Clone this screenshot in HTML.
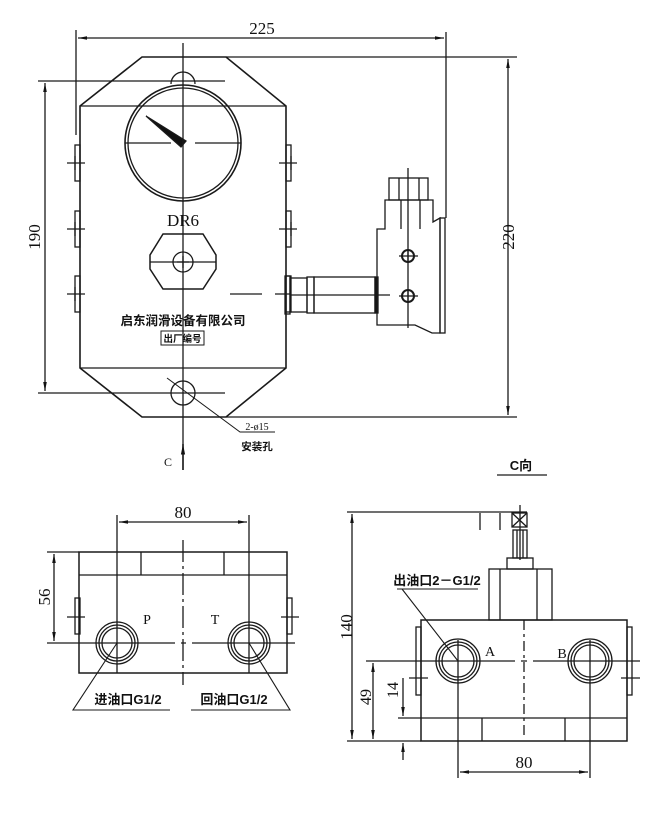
<!DOCTYPE html>
<html><head><meta charset="utf-8"><style>
html,body{margin:0;padding:0;background:#fff;}
svg{display:block;}
text{font-family:"Liberation Serif","Noto Serif CJK SC","Noto Sans CJK SC",serif;fill:#111;}
.c{font-family:"Liberation Sans","Noto Sans CJK SC",sans-serif;font-weight:bold;}
</style></head><body>
<svg width="648" height="813" viewBox="0 0 648 813" xmlns="http://www.w3.org/2000/svg" fill="none" stroke="#1a1a1a" stroke-width="1.3">
<defs><marker id="a" viewBox="0 0 10 10" refX="10" refY="5" markerWidth="7" markerHeight="7" orient="auto-start-reverse"><path d="M0,3L10,5L0,7z" fill="#111" stroke="none"/></marker></defs>
<!-- TOP VIEW -->
<path d="M142,57 L226,57 L286,106 L286,368 L226,417 L142,417 L80,368 L80,106 Z" stroke-width="1.6"/>
<line x1="80" y1="106" x2="286" y2="106"/><line x1="80" y1="368" x2="286" y2="368"/>
<circle cx="183" cy="143" r="58" stroke-width="1.6"/><circle cx="183" cy="143" r="55"/>
<path d="M146,116 L186,141 L181,147 Z" fill="#111"/>
<line x1="125" y1="143" x2="171" y2="143"/><line x1="195" y1="143" x2="241" y2="143"/>
<path d="M171,84 A12,12 0 1 1 195,84"/>
<line x1="38" y1="81" x2="225" y2="81"/><line x1="38" y1="393" x2="225" y2="393"/>
<circle cx="183" cy="393" r="12"/>
<line x1="183" y1="43" x2="183" y2="470"/>
<!-- side tabs -->
<g>
<rect x="75" y="145" width="5" height="36"/><rect x="75" y="211" width="5" height="36"/><rect x="75" y="276" width="5" height="36"/>
<rect x="286" y="145" width="5" height="36"/><rect x="286" y="211" width="5" height="36"/><rect x="286" y="276" width="5" height="36"/>
<path d="M67,163H85M67,229H85M67,294H85M279,163H297M279,229H297M75,156V170M75,222V236M75,287V301M291,156V170M291,222V236"/>
</g>
<text x="183" y="226" font-size="17" text-anchor="middle" stroke="none">DR6</text>
<path d="M163,234 L203,234 L216,255 L216,269 L203,289 L163,289 L150,269 L150,255 Z" stroke-width="1.5"/>
<path d="M150,262H216"/><circle cx="183" cy="262" r="10"/>
<path d="M177,262H189M183,256V268"/>
<path d="M230,294H262M275,294H290" />
<!-- connector -->
<rect x="285" y="276" width="5" height="38"/>
<rect x="290" y="278" width="17" height="34"/>
<rect x="307" y="277" width="7" height="36"/>
<rect x="314" y="277" width="61" height="36"/>
<rect x="375" y="277" width="3" height="36" fill="#111"/>
<path d="M290,295H390"/>
<!-- bracket -->
<path d="M377,229 L377,325 L415,325 L432,333 L440,333 L440,218 L433,222 L433,200 L385,200 L385,229 Z"/>
<rect x="389" y="178" width="39" height="22"/>
<path d="M399,178V200M419,178V200M401,200V229M420,200V229"/>
<rect x="440" y="218" width="5" height="115"/>
<line x1="408" y1="168" x2="408" y2="328"/>
<circle cx="408" cy="256" r="6" stroke-width="2"/><circle cx="408" cy="296" r="6" stroke-width="2"/>
<path d="M399,256H418M399,296H418M408,250V262M408,290V302"/>
<!-- dims top -->
<path d="M76,30V135M446,32V218M226,57H517M226,417H517"/>
<line x1="78" y1="38" x2="444" y2="38" marker-start="url(#a)" marker-end="url(#a)"/>
<text x="262" y="34" font-size="17" text-anchor="middle" stroke="none">225</text>
<line x1="508" y1="59" x2="508" y2="415" marker-start="url(#a)" marker-end="url(#a)"/>
<text transform="translate(514,237) rotate(-90)" font-size="17" text-anchor="middle" stroke="none">220</text>
<line x1="45" y1="83" x2="45" y2="391" marker-start="url(#a)" marker-end="url(#a)"/>
<text transform="translate(40,237) rotate(-90)" font-size="17" text-anchor="middle" stroke="none">190</text>
<text class="c" x="183" y="325" font-size="12.5" text-anchor="middle" stroke="none">启东润滑设备有限公司</text>
<rect x="161" y="331" width="43" height="14" stroke-width="1"/>
<text class="c" x="182.5" y="342" font-size="9.5" text-anchor="middle" stroke="none">出厂编号</text>
<path d="M167,378 L240,432 H275" stroke-width="1"/>
<text x="257" y="430" font-size="10" text-anchor="middle" stroke="none">2-ø15</text>
<text class="c" x="257" y="450" font-size="10.5" text-anchor="middle" stroke="none">安装孔</text>
<line x1="183" y1="470" x2="183" y2="444" marker-end="url(#a)" stroke-width="1.5"/>
<text x="168" y="466" font-size="12" text-anchor="middle" stroke="none">C</text>
<!-- LOWER LEFT -->
<rect x="79" y="552" width="208" height="121" stroke-width="1.5"/>
<path d="M79,575H287M141,552V575M224,552V575"/>
<rect x="75" y="598" width="5" height="36"/><rect x="287" y="598" width="5" height="36"/>
<path d="M67,617H85M281,617H299"/>
<g><circle cx="117" cy="643" r="21"/><circle cx="117" cy="643" r="18"/><circle cx="117" cy="643" r="15"/>
<circle cx="249" cy="643" r="21"/><circle cx="249" cy="643" r="18"/><circle cx="249" cy="643" r="15"/></g>
<path d="M117,515V673M249,515V673"/>
<path d="M47,643H175M181,643H186M192,643H295" stroke-dasharray="none"/>
<path d="M183,540V685" stroke-dasharray="22,4,3,4"/>
<line x1="119" y1="522" x2="247" y2="522" marker-start="url(#a)" marker-end="url(#a)"/>
<text x="183" y="518" font-size="17" text-anchor="middle" stroke="none">80</text>
<path d="M47,552H79"/>
<line x1="54" y1="554" x2="54" y2="641" marker-start="url(#a)" marker-end="url(#a)"/>
<text transform="translate(50,597) rotate(-90)" font-size="17" text-anchor="middle" stroke="none">56</text>
<text x="147" y="624" font-size="14" text-anchor="middle" stroke="none">P</text>
<text x="215" y="624" font-size="14" text-anchor="middle" stroke="none">T</text>
<path d="M117,643 L73,710 H170M249,643 L290,710 H191" stroke-width="1.1"/>
<text class="c" x="128" y="704" font-size="13" text-anchor="middle" stroke="none">进油口G1/2</text>
<text class="c" x="234" y="704" font-size="13" text-anchor="middle" stroke="none">回油口G1/2</text>
<!-- LOWER RIGHT -->
<text class="c" x="521" y="470" font-size="13" text-anchor="middle" stroke="none">C向</text>
<path d="M497,475H547"/>
<rect x="421" y="620" width="206" height="121" stroke-width="1.5"/>
<path d="M398,718H627M482,718V741M565,718V741"/>
<rect x="489" y="569" width="63" height="51"/>
<path d="M500,569V620M537,569V620"/>
<rect x="507" y="558" width="26" height="11"/>
<rect x="513" y="530" width="14" height="28"/><path d="M517,530V558M523,530V558"/>
<rect x="512" y="513" width="15" height="14"/><path d="M512,513L527,527M527,513L512,527"/>
<path d="M520,505V560M480,513V530M500,513V530"/>
<path d="M347,512H527M347,741H421"/>
<rect x="416" y="627" width="5" height="68"/><rect x="627" y="627" width="5" height="68"/>
<path d="M409,678H428M621,678H640"/>
<g><circle cx="458" cy="661" r="22"/><circle cx="458" cy="661" r="19"/><circle cx="458" cy="661" r="16"/>
<circle cx="590" cy="661" r="22"/><circle cx="590" cy="661" r="19"/><circle cx="590" cy="661" r="16"/></g>
<path d="M458,640V778M590,640V778"/>
<path d="M366,661H515M521,661H527M533,661H640"/>
<path d="M524,620V735" stroke-dasharray="10,4,3,4"/>
<line x1="352" y1="514" x2="352" y2="739" marker-start="url(#a)" marker-end="url(#a)"/>
<text transform="translate(352,627) rotate(-90)" font-size="17" text-anchor="middle" stroke="none">140</text>
<line x1="373" y1="663" x2="373" y2="739" marker-start="url(#a)" marker-end="url(#a)"/>
<text transform="translate(371,697) rotate(-90)" font-size="16" text-anchor="middle" stroke="none">49</text>
<line x1="403" y1="678" x2="403" y2="716" marker-end="url(#a)"/>
<line x1="403" y1="760" x2="403" y2="743" marker-end="url(#a)"/>
<text transform="translate(398,690) rotate(-90)" font-size="16" text-anchor="middle" stroke="none">14</text>
<line x1="460" y1="772" x2="588" y2="772" marker-start="url(#a)" marker-end="url(#a)"/>
<text x="524" y="768" font-size="17" text-anchor="middle" stroke="none">80</text>
<text x="490" y="656" font-size="14" text-anchor="middle" stroke="none">A</text>
<text x="562" y="658" font-size="14" text-anchor="middle" stroke="none">B</text>
<path d="M397,589H478M402,589L458,661" stroke-width="1.1"/>
<text class="c" x="437" y="585" font-size="13" text-anchor="middle" stroke="none">出油口2－G1/2</text>
</svg>
</body></html>
